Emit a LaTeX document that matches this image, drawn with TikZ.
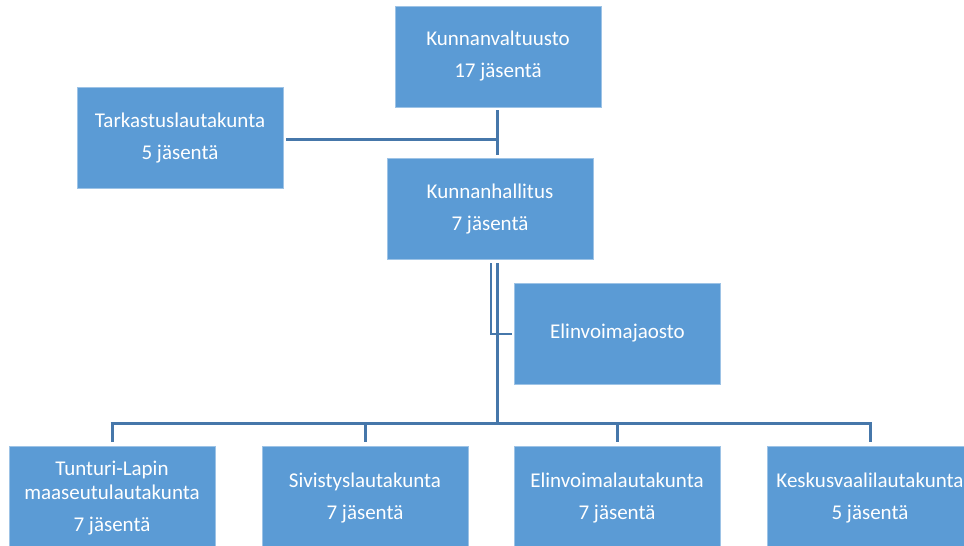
\documentclass[tikz,border=0pt]{standalone}
\usepackage{fontspec}
\setmainfont{Carlito}
\definecolor{boxblue}{HTML}{5B9BD5}
\definecolor{boxedge}{HTML}{9DC3E6}
\definecolor{linkblue}{HTML}{4677AA}
\begin{document}
\begin{tikzpicture}[x=1pt,y=-1pt,
  orgbox/.style={rectangle, fill=boxblue, draw=boxedge, line width=0.7pt,
    text=white, minimum width=206pt, minimum height=101pt, inner sep=0pt,
    align=center, font=\fontsize{21}{24}\selectfont},
  lowbox/.style={orgbox, minimum height=104pt},
  conn/.style={draw=linkblue, line width=3pt},
  thinconn/.style={draw=linkblue, line width=2.2pt}]
\useasboundingbox (0,0) rectangle (964,546);
\clip (0,0) rectangle (964,546);
\node[orgbox] (kv) at (498,56.5) {Kunnanvaltuusto\\[8pt]17 jäsentä};
\node[orgbox] (tl) at (180,138) {Tarkastuslautakunta\\[8pt]5 jäsentä};
\node[orgbox] (kh) at (490,209) {Kunnanhallitus\\[8pt]7 jäsentä};
\node[orgbox] (ej) at (617.5,333.5) {Elinvoimajaosto};
\node[lowbox] (b1) at (112,498) {Tunturi-Lapin\\maaseutulautakunta\\[8pt]7 jäsentä};
\node[lowbox] (b2) at (365,498) {Sivistyslautakunta\\[8pt]7 jäsentä};
\node[lowbox] (b3) at (617,498) {Elinvoimalautakunta\\[8pt]7 jäsentä};
\node[lowbox] (b4) at (870,498) {Keskusvaalilautakunta\\[8pt]5 jäsentä};
% coordinates
\coordinate (vtop) at (497,110);
\coordinate (vbot) at (497,155);
\coordinate (tj) at (497,139);
\coordinate (trtop) at (497,263);
\coordinate (bus) at (497,423);
\coordinate (ejtop) at (491,263);
\coordinate (ejcorner) at (491,334);
% connectors
\draw[conn] (vtop) -- (vbot);
\draw[conn] ([xshift=3pt]tl.east |- tj) -- (tj);
\draw[thinconn] (ejtop) -- (ejcorner) -- ([xshift=-2pt]ej.west |- ejcorner);
\draw[conn] (trtop) -- (bus);
\draw[conn] ([xshift=-1.5pt]b1.north |- bus) -- ([xshift=1.5pt]b4.north |- bus);
\foreach \b in {b1,b2,b3,b4}{
  \draw[conn] (\b.north |- bus) -- ([yshift=4pt]\b.north);
}
\end{tikzpicture}
\end{document}
